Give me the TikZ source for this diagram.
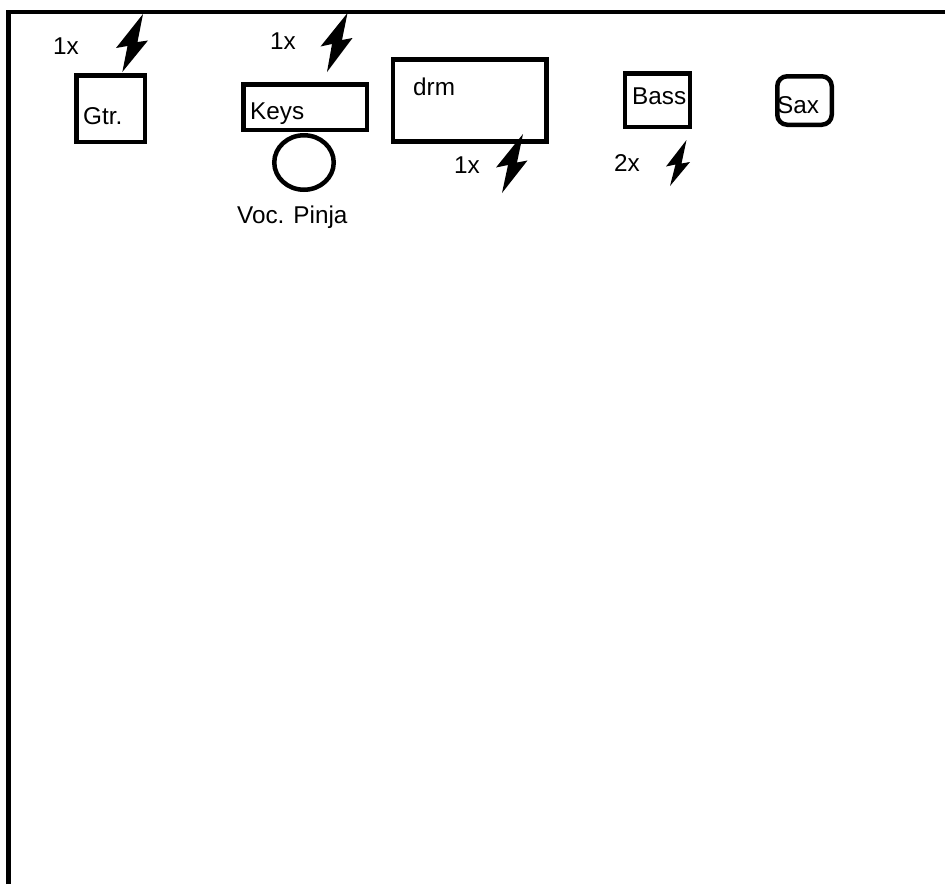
\documentclass[tikz,border=0pt]{standalone}
\usepackage{fontspec}
\usetikzlibrary{shapes.geometric}
\setmainfont{Liberation Sans}
\tikzset{
  x=1pt,y=-1pt,
  box/.style={draw=black,line width=4.5pt,fill=none,inner sep=0pt},
  label text/.style={anchor=base west,inner sep=0pt,font=\fontsize{24.3}{28}\selectfont},
  bolt/.style={fill=black,draw=none}
}
\begin{document}
\begin{tikzpicture}
\useasboundingbox (0,0) rectangle (945,884);
\draw[line width=4.5pt,line join=miter] (8.5,884) -- (8.5,12) -- (945,12);
\node[box,minimum width=68.5pt,minimum height=66.5pt] (gtr) at (110.5,108.5) {};
\node[box,minimum width=123.5pt,minimum height=45.5pt] (keys) at (305,107) {};
\node[box,ellipse,minimum width=59.5pt,minimum height=54.5pt] (voc) at (304,162.5) {};
\node[box,minimum width=153.5pt,minimum height=82pt] (drm) at (469.5,100.25) {};
\node[box,minimum width=65pt,minimum height=53.5pt] (bass) at (657.5,100) {};
\node[box,rounded corners=10pt,minimum width=54.5pt,minimum height=48.5pt] (sax) at (804.5,100.5) {};
\fill[bolt] (143,14) -- (116,48) -- (127.5,46) -- (122.3,72) -- (148,40.5) -- (137.5,42) -- cycle;
\fill[bolt] (347.5,13) -- (320.5,46.5) -- (332,44) -- (327,72) -- (352.5,38) -- (342,40) -- cycle;
\fill[bolt] (523,134) -- (496,167.5) -- (508,165) -- (502,193) -- (527.5,160.5) -- (517,162.5) -- cycle;
\fill[bolt] (686.5,140) -- (666,166.5) -- (675.5,164.5) -- (670,186) -- (690,162) -- (681.5,163.5) -- cycle;
\node[label text] (t1) at (53,54) {1x};
\node[label text] (t2) at (270,49) {1x};
\node[label text] (t3) at (454,173) {1x};
\node[label text] (t4) at (614,171) {2x};
\node[label text] (t5) at (83,124.5) {Gtr.};
\node[label text] (t6) at (250,119.5) {Keys};
\node[label text] (t7) at (237,223.5) {Voc. Pinja};
\node[label text] (t8) at (413,95) {drm};
\node[label text] (t9) at (632,104.5) {Bass};
\node[label text] (t10) at (777,113) {Sax};
\end{tikzpicture}
\end{document}
